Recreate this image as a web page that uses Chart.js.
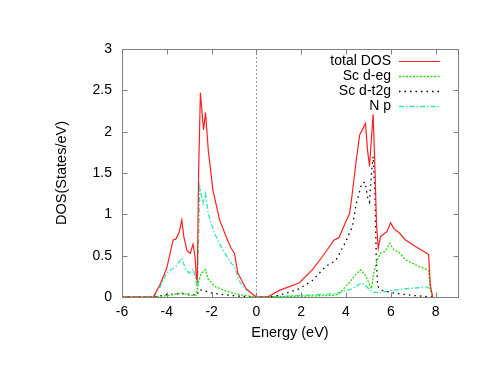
<!DOCTYPE html>
<html>
<head>
<meta charset="utf-8">
<script src="https://cdn.jsdelivr.net/npm/chart.js@4/dist/chart.umd.min.js"></script>
<style>
  body { margin: 0; background: #fff; }
  canvas { display: block; }
</style>
</head>
<body>
<canvas id="myChart" width="494" height="382"></canvas>
<script>
// energies (eV) and DOS values, one pair of arrays per curve
var totalE = [-6, -4.6, -4.3, -4.0, -3.72, -3.6, -3.45, -3.33, -3.24, -3.1, -2.95, -2.83, -2.74, -2.68, -2.64, -2.58, -2.5, -2.36, -2.27, -2.15, -1.94, -1.64, -1.35, -1.13, -0.98, -0.83, -0.46, -0.2, 0, 0.5, 1.02, 1.91, 2.5, 2.95, 3.47, 3.56, 3.69, 3.99, 4.16, 4.26, 4.46, 4.61, 4.76, 4.87, 4.96, 5.05, 5.14, 5.21, 5.29, 5.36, 5.44, 5.54, 5.73, 5.83, 5.99, 6.13, 6.36, 6.66, 7.1, 7.61, 7.69, 7.76, 7.87];
var totalDos = [0, 0, 0.15, 0.35, 0.69, 0.70, 0.78, 0.93, 0.73, 0.56, 0.53, 0.64, 0.49, 0.23, 0.2, 1.5, 2.47, 2.02, 2.23, 1.78, 1.29, 0.93, 0.73, 0.59, 0.53, 0.29, 0.1, 0.04, 0, 0, 0.08, 0.17, 0.33, 0.49, 0.69, 0.70, 0.72, 0.91, 1.01, 1.21, 1.66, 1.96, 2.04, 2.1, 1.78, 1.58, 1.93, 2.21, 1.58, 0.89, 0.59, 0.73, 0.77, 0.79, 0.9, 0.83, 0.78, 0.69, 0.61, 0.53, 0.51, 0.15, 0];

var egE = [-6, -4.6, -3.9, -3.3, -3.0, -2.7, -2.62, -2.58, -2.45, -2.27, -2.16, -1.87, -1.35, -0.76, 0, 0.5, 2.0, 3.5, 3.69, 4.13, 4.43, 4.65, 4.85, 5.02, 5.14, 5.24, 5.39, 5.54, 5.73, 5.83, 5.96, 6.13, 6.36, 6.66, 7.1, 7.61, 7.69, 7.76, 7.87];
var egDos = [0, 0, 0.02, 0.05, 0.02, 0.02, 0.1, 0.19, 0.29, 0.33, 0.22, 0.13, 0.07, 0.03, 0, 0, 0.01, 0.02, 0.04, 0.17, 0.27, 0.33, 0.27, 0.17, 0.1, 0.29, 0.45, 0.53, 0.55, 0.59, 0.65, 0.57, 0.54, 0.45, 0.39, 0.33, 0.32, 0.1, 0];

var t2gE = [-6, -4.6, -4.0, -3.3, -2.8, -2.66, -2.55, -2.4, -2.0, -1.5, -0.8, 0, 0.5, 1.02, 1.91, 2.5, 3.1, 3.54, 3.99, 4.28, 4.46, 4.7, 4.85, 4.96, 5.05, 5.14, 5.21, 5.29, 5.35, 5.41, 5.62, 6.06, 6.95, 7.87];
var t2gDos = [0, 0, 0.03, 0.04, 0.03, 0.02, 0.09, 0.08, 0.05, 0.03, 0.01, 0, 0, 0.02, 0.1, 0.2, 0.37, 0.44, 0.67, 0.85, 1.13, 1.37, 1.39, 1.21, 1.15, 1.5, 1.7, 1.29, 0.48, 0.13, 0.08, 0.05, 0.02, 0];

var npE = [-6, -4.6, -4.3, -4.01, -3.6, -3.33, -3.16, -3.0, -2.83, -2.7, -2.64, -2.58, -2.53, -2.38, -2.27, -2.15, -1.87, -1.5, -1.13, -0.98, -0.76, -0.46, 0, 0.5, 1.91, 3.54, 4.28, 4.7, 4.9, 5.17, 5.47, 6.06, 6.66, 7.61, 7.76, 7.87];
var npDos = [0, 0, 0.12, 0.29, 0.37, 0.47, 0.33, 0.29, 0.34, 0.2, 0.1, 0.7, 1.33, 1.13, 1.25, 1.01, 0.77, 0.57, 0.41, 0.37, 0.19, 0.09, 0, 0, 0.02, 0.04, 0.1, 0.17, 0.13, 0.06, 0.05, 0.08, 0.1, 0.12, 0.1, 0];

var seriesNames = ["total DOS", "Sc d-eg", "Sc d-t2g", "N p"];
var xTicks = [-6, -4, -2, 0, 2, 4, 6, 8];

function pts(xs, ys) {
  var out = [];
  for (var i = 0; i < xs.length; i++) out.push({ x: xs[i], y: ys[i] });
  return out;
}

var FONT = "'Liberation Sans', Arial, Helvetica, sans-serif";

// gnuplot style frame, inward ticks on all four sides, dotted zero line and legend
var gnuplotLook = {
  id: "gnuplotLook",
  beforeDatasetsDraw: function (chart) {
    var ctx = chart.ctx, a = chart.chartArea;
    var x0 = Math.round(chart.scales.x.getPixelForValue(0)) + 0.5;
    ctx.save();
    ctx.strokeStyle = "#999";
    ctx.lineWidth = 1;
    ctx.setLineDash([2, 2]);
    ctx.beginPath();
    ctx.moveTo(x0, a.top);
    ctx.lineTo(x0, a.bottom);
    ctx.stroke();
    ctx.restore();
  },
  afterDraw: function (chart) {
    var ctx = chart.ctx, a = chart.chartArea;
    var xs = chart.scales.x, ys = chart.scales.y;
    var L = Math.round(a.left) + 0.5, R = Math.round(a.right) + 0.5;
    var T = Math.round(a.top) + 0.5, B = Math.round(a.bottom) + 0.5;
    ctx.save();
    ctx.strokeStyle = "#808080";
    ctx.lineWidth = 1;
    ctx.strokeRect(L, T, R - L, B - T);
    ctx.beginPath();
    xs.ticks.forEach(function (t) {
      var p = Math.round(xs.getPixelForValue(t.value)) + 0.5;
      ctx.moveTo(p, B); ctx.lineTo(p, B - 5);
      ctx.moveTo(p, T); ctx.lineTo(p, T + 5);
    });
    ys.ticks.forEach(function (t) {
      var p = Math.round(ys.getPixelForValue(t.value)) + 0.5;
      ctx.moveTo(L, p); ctx.lineTo(L + 5, p);
      ctx.moveTo(R, p); ctx.lineTo(R - 5, p);
    });
    ctx.stroke();

    // legend: text right aligned, sample line on the right
    ctx.font = "14px " + FONT;
    ctx.textAlign = "right";
    ctx.textBaseline = "middle";
    chart.data.datasets.forEach(function (ds, i) {
      var y = 61.5 + i * 15;
      ctx.fillStyle = "#000";
      ctx.fillText(ds.label, 391, y);
      ctx.strokeStyle = ds.borderColor;
      ctx.lineWidth = ds.borderWidth;
      ctx.setLineDash(ds.borderDash || []);
      ctx.beginPath();
      ctx.moveTo(399, y);
      ctx.lineTo(440, y);
      ctx.stroke();
    });
    ctx.restore();
  }
};

function createChart() {
  var ctx = document.getElementById("myChart").getContext("2d");
  new Chart(ctx, {
    type: "line",
    data: {
      datasets: [
        { label: seriesNames[0], data: pts(totalE, totalDos), borderColor: "#ff2020", borderWidth: 1.2 },
        { label: seriesNames[1], data: pts(egE, egDos), borderColor: "#22dd00", borderWidth: 1.3, borderDash: [2, 1.5] },
        { label: seriesNames[2], data: pts(t2gE, t2gDos), borderColor: "#000000", borderWidth: 1.3, borderDash: [1.5, 4] },
        { label: seriesNames[3], data: pts(npE, npDos), borderColor: "#33e8b0", borderWidth: 1.3, borderDash: [5, 2, 1.5, 2] }
      ]
    },
    options: {
      responsive: false,
      animation: false,
      layout: { padding: { top: 49, right: 36, left: 0, bottom: 0 } },
      elements: { point: { radius: 0 }, line: { tension: 0, fill: false } },
      plugins: { legend: { display: false }, tooltip: { enabled: false } },
      scales: {
        x: {
          type: "linear",
          min: -6,
          max: 9,
          afterFit: function (s) { s.height = 85; },
          afterBuildTicks: function (s) {
            s.ticks = xTicks.map(function (v) { return { value: v }; });
          },
          grid: { display: false, drawTicks: false },
          border: { display: false },
          ticks: {
            padding: 7, color: "#000", font: { family: FONT, size: 14 }, maxRotation: 0,
            callback: function (v) { return String(v); }
          },
          title: { display: true, text: "Energy (eV)", color: "#000", font: { family: FONT, size: 14.5 }, padding: { top: 0, bottom: 40 } }
        },
        y: {
          min: 0,
          max: 3,
          afterFit: function (s) { s.width = 122; },
          grid: { display: false, drawTicks: false },
          border: { display: false },
          ticks: {
            stepSize: 0.5, padding: 10, color: "#000", font: { family: FONT, size: 14 },
            callback: function (v) { return String(Number(v)); }
          },
          title: { display: true, text: "DOS(States/eV)", color: "#000", font: { family: FONT, size: 14.5 }, padding: { top: 53, bottom: 0 } }
        }
      }
    },
    plugins: [gnuplotLook]
  });
}

createChart();
</script>
</body>
</html>
